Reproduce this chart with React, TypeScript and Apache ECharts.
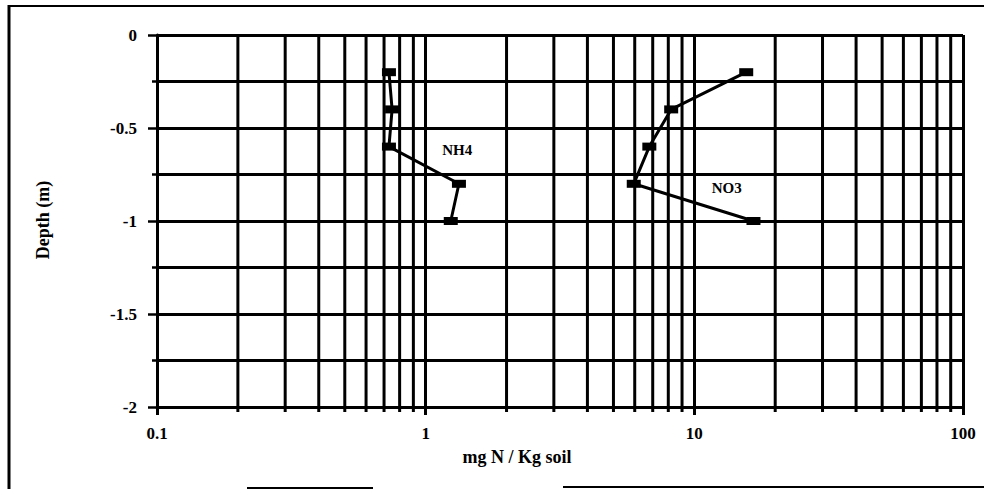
import React, { useEffect, useRef } from "react";
import * as echarts from "echarts";

// Depth of each sample (m) and soil nitrogen contents (mg N / Kg soil)
const depths = [-0.2, -0.4, -0.6, -0.8, -1.0];
const nh4Values = [0.73, 0.75, 0.73, 1.33, 1.24];
const no3Values = [15.6, 8.2, 6.8, 5.95, 16.6];

// Label anchors for each profile: [mg N / Kg soil, depth]
const nh4LabelAt = [1.31, -0.62];
const no3LabelAt = [13.2, -0.82];

// Log-axis decades and the intermediate 2..9 gridlines
const decadeStarts = [0.1, 1, 10];
const minorMultipliers = [2, 3, 4, 5, 6, 7, 8, 9];

const FONT = "'Liberation Serif', 'Times New Roman', serif";

export default function App() {
  const ref = useRef<HTMLDivElement>(null);

  useEffect(() => {
    if (!ref.current) return;
    const chart = echarts.init(ref.current, undefined, { renderer: "svg" });

    const minorX: number[] = [];
    decadeStarts.forEach((d) =>
      minorMultipliers.forEach((m) => minorX.push(+(d * m).toPrecision(3)))
    );

    const gridLineStyle = { color: "#000", width: 3, type: "solid" as const };

    chart.setOption({
      animation: false,
      backgroundColor: "#fff",
      grid: { left: 157, right: 21, top: 35, bottom: 82, containLabel: false },
      xAxis: {
        type: "log",
        logBase: 10,
        min: 0.1,
        max: 100,
        axisLine: { show: true, onZero: false, lineStyle: { color: "#000", width: 3 } },
        axisTick: { show: true, length: 8, lineStyle: { color: "#000", width: 3 } },
        axisLabel: {
          margin: 18,
          color: "#000",
          fontFamily: FONT,
          fontWeight: "bold",
          fontSize: 17,
          formatter: (v: number) => String(v),
        },
        splitLine: { show: true, lineStyle: gridLineStyle },
      },
      yAxis: {
        type: "value",
        min: -2,
        max: 0,
        interval: 0.5,
        axisLine: { show: true, onZero: false, lineStyle: { color: "#000", width: 3 } },
        axisTick: { show: true, length: 9, lineStyle: { color: "#000", width: 2.5 } },
        minorTick: { show: true, splitNumber: 2, length: 5, lineStyle: { color: "#000", width: 2.5 } },
        axisLabel: {
          margin: 20,
          color: "#000",
          fontFamily: FONT,
          fontWeight: "bold",
          fontSize: 17,
          formatter: (v: number) => (v === 0 ? "0" : String(v)),
        },
        splitLine: { show: true, lineStyle: gridLineStyle },
        minorSplitLine: { show: true, lineStyle: gridLineStyle },
      },
      series: [
        {
          // intermediate log gridlines, each with a short tick below the axis
          type: "custom",
          silent: true,
          z: 1,
          clip: false,
          data: minorX.map((v) => [v]),
          encode: { x: 0 },
          renderItem: (_params: any, api: any) => {
            const v = api.value(0);
            const top = api.coord([v, 0]);
            const bottom = api.coord([v, -2]);
            return {
              type: "line",
              shape: { x1: top[0], y1: top[1], x2: bottom[0], y2: bottom[1] + 5 },
              style: { stroke: "#000", lineWidth: 3 },
            };
          },
        },
        {
          name: "NH4",
          type: "line",
          z: 5,
          data: nh4Values.map((v, i) => [v, depths[i]]),
          symbol: "rect",
          symbolSize: [14, 8],
          itemStyle: { color: "#000" },
          lineStyle: { color: "#000", width: 3 },
          markPoint: {
            symbol: "rect",
            symbolSize: 0,
            label: {
              show: true,
              formatter: "NH4",
              color: "#000",
              fontFamily: FONT,
              fontWeight: "bold",
              fontSize: 15,
            },
            data: [{ coord: nh4LabelAt }],
          },
        },
        {
          name: "NO3",
          type: "line",
          z: 5,
          data: no3Values.map((v, i) => [v, depths[i]]),
          symbol: "rect",
          symbolSize: [14, 8],
          itemStyle: { color: "#000" },
          lineStyle: { color: "#000", width: 3 },
          markPoint: {
            symbol: "rect",
            symbolSize: 0,
            label: {
              show: true,
              formatter: "NO3",
              color: "#000",
              fontFamily: FONT,
              fontWeight: "bold",
              fontSize: 15,
            },
            data: [{ coord: no3LabelAt }],
          },
        },
      ],
      graphic: [
        {
          type: "text",
          x: 517,
          y: 457,
          style: {
            text: "mg N / Kg soil",
            fill: "#000",
            font: `bold 18px ${FONT}`,
            align: "center",
            verticalAlign: "middle",
          },
        },
        {
          type: "text",
          x: 43,
          y: 220,
          rotation: Math.PI / 2,
          style: {
            text: "Depth (m)",
            fill: "#000",
            font: `bold 18px ${FONT}`,
            align: "center",
            verticalAlign: "middle",
          },
        },
        // page frame
        { type: "line", shape: { x1: 8, y1: 6, x2: 984, y2: 6 }, style: { stroke: "#000", lineWidth: 2 } },
        { type: "line", shape: { x1: 9, y1: 5, x2: 9, y2: 489 }, style: { stroke: "#000", lineWidth: 3 } },
        { type: "line", shape: { x1: 247, y1: 488, x2: 373, y2: 488 }, style: { stroke: "#000", lineWidth: 2 } },
        { type: "line", shape: { x1: 563, y1: 487, x2: 984, y2: 487 }, style: { stroke: "#000", lineWidth: 2 } },
      ],
    });

    return () => chart.dispose();
  }, []);

  return (
    <div
      ref={ref}
      style={{ width: 984, height: 489, position: "absolute", left: 0, top: 0, background: "#fff" }}
    />
  );
}
